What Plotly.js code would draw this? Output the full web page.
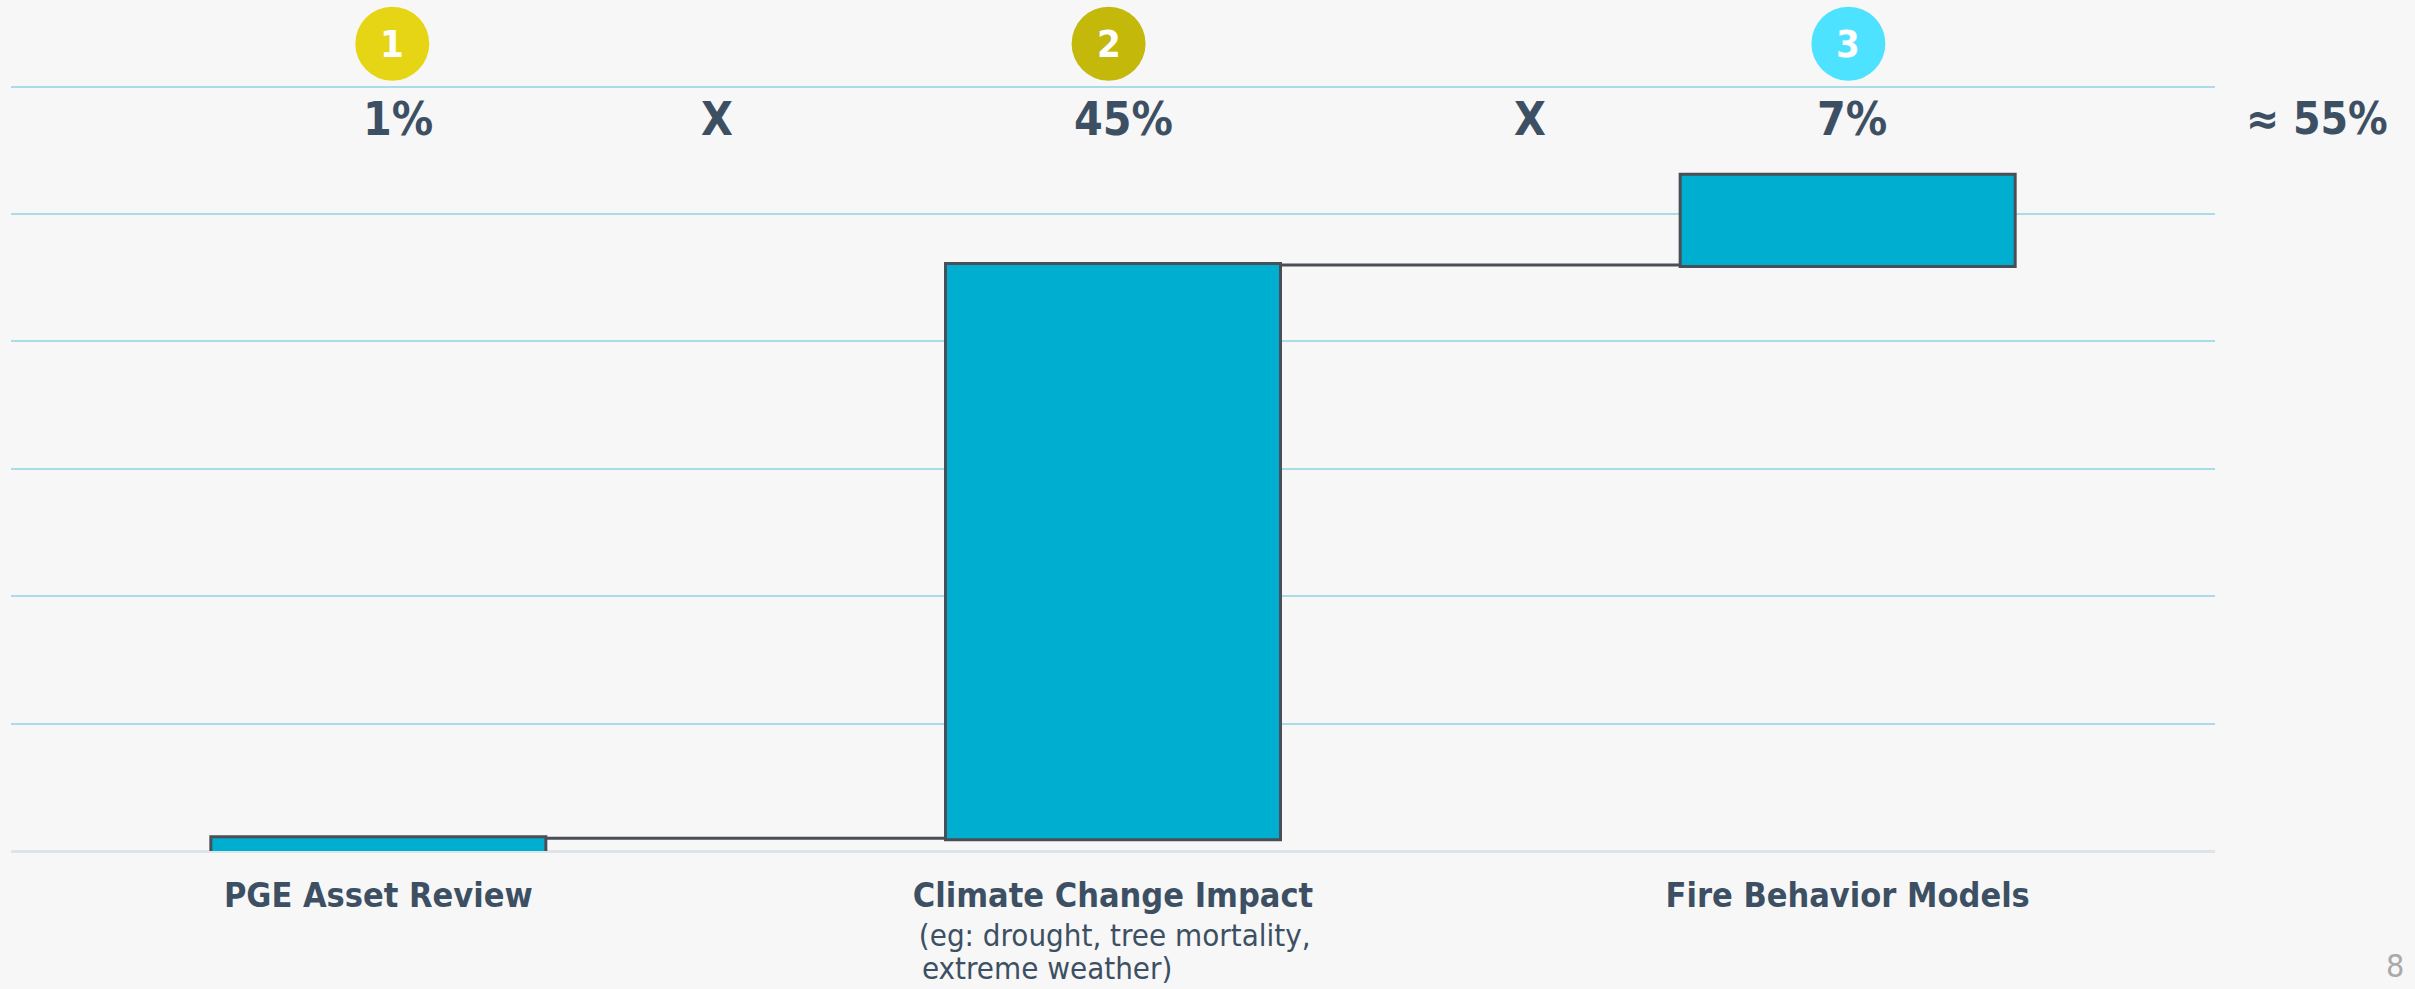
<!DOCTYPE html>
<html>
<head>
<meta charset="utf-8">
<script src="https://cdn.plot.ly/plotly-3.0.1.min.js"></script>
<style>
html,body{margin:0;padding:0;background:#f7f7f7;}
#chart{width:2415px;height:989px;}
</style>
</head>
<body>
<div id="chart"></div>
<script>
// ---- data ----
const categories = ["PGE Asset Review", "Climate Change Impact", "Fire Behavior Models"];
const values = [1, 45, 7];
const valueLabels = ["1%", "45%", "7%"];
const stepNumbers = ["1", "2", "3"];
const stepColors = ["#e6d515", "#c4b90b", "#4de2ff"];
const operatorLabels = ["X", "X"];
const totalLabel = "\u2248 55%";
const subtitleLines = [" (eg: drought, tree mortality,", "extreme weather)"];
const pageNumber = "8";

const textColor = "#3d5063";
const condensed = "'Liberation Sans Narrow', 'DejaVu Sans Condensed', 'Roboto Condensed', Arial, sans-serif";

const trace = {
  type: "waterfall",
  x: categories,
  y: values,
  measure: values.map(() => "relative"),
  textinfo: "none",
  hoverinfo: "none",
  increasing: {marker: {color: "#00aecf", line: {color: "#4a4e57", width: 3}}},
  connector: {mode: "between", line: {color: "#4a4e57", width: 3}},
  showlegend: false
};

// positions of header items relative to category centers
const labelOffsets = [0.027, 0.014, 0.006];
const circleOffsets = [0.019, -0.006, 0.001];
const operatorX = [0.461, 1.567];

const W = 2204, L = 11, PH = 851;
const px2paperX = p => (p - L) / W;
const px2paperY = p => (PH - p) / PH;

const annotations = [];
valueLabels.forEach((t, i) => {
  annotations.push({x: i + labelOffsets[i], y: 57.46, xref: "x", yref: "y", text: t, showarrow: false,
    font: {family: condensed, size: 46, color: textColor, weight: "bold"}, xanchor: "center", yanchor: "middle"});
});
operatorLabels.forEach((t, i) => {
  annotations.push({x: operatorX[i], y: 57.46, xref: "x", yref: "y", text: t, showarrow: false,
    font: {family: condensed, size: 46, color: textColor, weight: "bold"}, xanchor: "center", yanchor: "middle"});
});
annotations.push({x: px2paperX(2317), y: px2paperY(119), xref: "paper", yref: "paper", text: totalLabel, showarrow: false,
  font: {family: condensed, size: 44, color: textColor, weight: "bold"}, xanchor: "center", yanchor: "middle"});
stepNumbers.forEach((t, i) => {
  annotations.push({x: i + circleOffsets[i], y: 63.37, xref: "x", yref: "y", text: t, showarrow: false,
    font: {family: condensed, size: 38, color: "#ffffff", weight: "bold"}, xanchor: "center", yanchor: "middle"});
});
const subtitleY = [935, 968];
subtitleLines.forEach((t, i) => {
  annotations.push({x: px2paperX(i === 0 ? 908 : 920), y: px2paperY(subtitleY[i]), xref: "paper", yref: "paper", text: t,
    showarrow: false, align: "left", xanchor: "left", yanchor: "middle",
    font: {family: condensed, size: 31, color: textColor}});
});
annotations.push({x: px2paperX(2384), y: px2paperY(966), xref: "paper", yref: "paper", text: pageNumber,
  showarrow: false, xanchor: "left", yanchor: "middle", font: {family: condensed, size: 32, color: "#a9a9a9"}});

const shapes = stepColors.map((c, i) => ({
  type: "circle", xref: "x", yref: "y", xsizemode: "pixel", ysizemode: "pixel",
  xanchor: i + circleOffsets[i], yanchor: 63.37, x0: -37, x1: 37, y0: -37, y1: 37,
  fillcolor: c, line: {width: 0}, layer: "above"
}));

const layout = {
  width: 2415, height: 989,
  margin: {l: L, r: 2415 - L - W, t: 0, b: 989 - PH},
  paper_bgcolor: "#f7f7f7", plot_bgcolor: "#f7f7f7",
  waterfallgap: 0.544,
  xaxis: {type: "category", range: [-0.5, 2.5], showgrid: false, zeroline: false, showline: false,
    ticks: "", ticklabelstandoff: 21,
    tickfont: {family: condensed, size: 34, color: textColor, weight: "bold"}},
  yaxis: {range: [0, 66.8], dtick: 10, tick0: 0, showticklabels: false, showgrid: true,
    gridcolor: "#a9dce7", gridwidth: 2, zeroline: true, zerolinecolor: "#dfe4e8", zerolinewidth: 3,
    showline: false},
  annotations: annotations,
  shapes: shapes,
  font: {family: condensed}
};

Plotly.newPlot("chart", [trace], layout, {staticPlot: true, displayModeBar: false});
</script>
</body>
</html>
